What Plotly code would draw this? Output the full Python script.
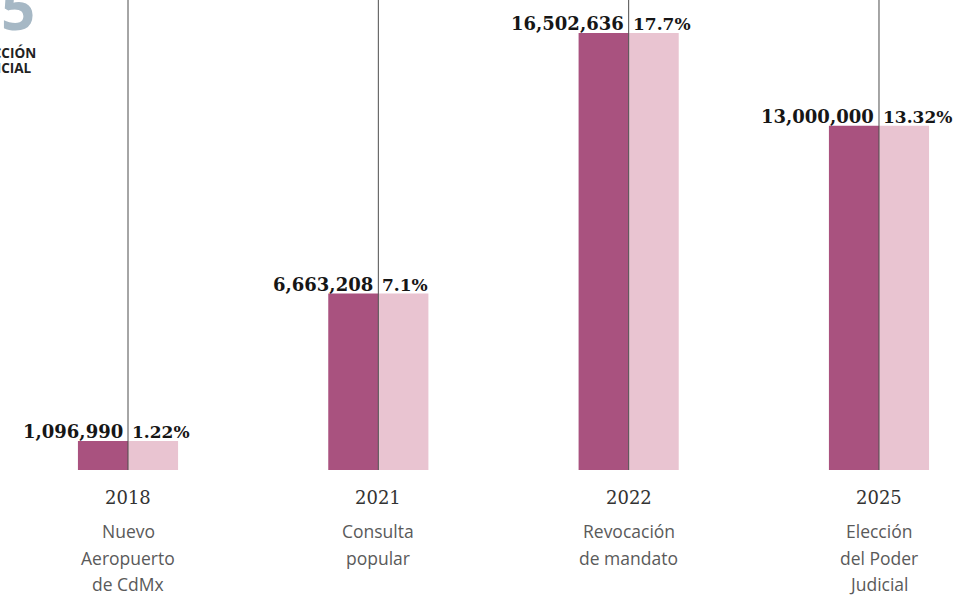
import plotly.graph_objects as go

years = ["2018", "2021", "2022", "2025"]
categories = ["Nuevo<br>Aeropuerto<br>de CdMx", "Consulta<br>popular",
              "Revocación<br>de mandato", "Elección<br>del Poder<br>Judicial"]
votes = [1096990, 6663208, 16502636, 13000000]
vote_labels = ["1,096,990", "6,663,208", "16,502,636", "13,000,000"]
pct_labels = ["1.22%", "7.1%", "17.7%", "13.32%"]

W, H = 956, 596
PLOT_BOTTOM = 470
DARK = "#a9527f"
LIGHT = "#e9c4d1"
xs = list(range(len(years)))

fig = go.Figure()
fig.add_trace(go.Bar(x=xs, y=votes, offset=-0.2, width=0.2,
                     marker=dict(color=DARK, line=dict(width=0)), hoverinfo="skip"))
fig.add_trace(go.Bar(x=xs, y=votes, offset=0.0, width=0.2,
                     marker=dict(color=LIGHT, line=dict(width=0)), hoverinfo="skip"))

def py(p):
    return (PLOT_BOTTOM - p) / PLOT_BOTTOM

LABEL_FONT = dict(family="DejaVu Serif", size=18, color="#161616", weight="bold")

shapes = []
annotations = []
for i in xs:
    shapes.append(dict(type="line", xref="x", yref="paper", x0=i, x1=i, y0=0, y1=1,
                       line=dict(color="#4d4d4d", width=1), layer="above"))
    annotations.append(dict(x=i, y=votes[i], xref="x", yref="y", text=vote_labels[i],
                            xanchor="right", yanchor="bottom", xshift=-3, yshift=-3,
                            showarrow=False, font=LABEL_FONT))
    annotations.append(dict(x=i, y=votes[i], xref="x", yref="y", text=pct_labels[i],
                            xanchor="left", yanchor="bottom", xshift=2, yshift=-3,
                            showarrow=False, font=dict(LABEL_FONT, size=17)))
    annotations.append(dict(x=i, y=py(497), xref="x", yref="paper", text=years[i],
                            xanchor="center", yanchor="middle", showarrow=False,
                            font=dict(family="DejaVu Serif", size=18, color="#333333")))
    for j, line in enumerate(categories[i].split("<br>")):
        annotations.append(dict(x=i, y=py(531 + 26.5 * j), xref="x", yref="paper", text=line,
                                xanchor="center", yanchor="middle", showarrow=False,
                                font=dict(family="Open Sans", size=17.5, color="#5a5a5a")))

# cropped logo in the top-left corner (cut off by the left edge, as in the reference)
annotations.append(dict(x=37 / W, y=py(50), xref="paper", yref="paper", text="5",
                        xanchor="right", yanchor="bottom", showarrow=False,
                        font=dict(family="Open Sans", size=60, color="#a6b8c5", weight="bold")))
annotations.append(dict(x=38 / W, y=py(64), xref="paper", yref="paper", text="ELECCIÓN",
                        xanchor="right", yanchor="bottom", showarrow=False,
                        font=dict(family="Open Sans", size=13.5, color="#222222", weight="bold")))
annotations.append(dict(x=34 / W, y=py(79), xref="paper", yref="paper", text="JUDICIAL",
                        xanchor="right", yanchor="bottom", showarrow=False,
                        font=dict(family="Open Sans", size=13.5, color="#222222", weight="bold")))

fig.update_layout(
    width=W, height=H,
    margin=dict(l=0, r=0, t=0, b=H - PLOT_BOTTOM, pad=0),
    paper_bgcolor="white", plot_bgcolor="white",
    barmode="overlay", showlegend=False,
    xaxis=dict(range=[-128 / 250.33, -128 / 250.33 + W / 250.33], visible=False, fixedrange=True),
    yaxis=dict(range=[0, 16502636 * PLOT_BOTTOM / 437], visible=False, fixedrange=True),
    shapes=shapes, annotations=annotations,
)

fig.write_html("out.html", config={"displayModeBar": False},
               post_script="document.body.style.margin='0';document.body.style.overflow='hidden';")
